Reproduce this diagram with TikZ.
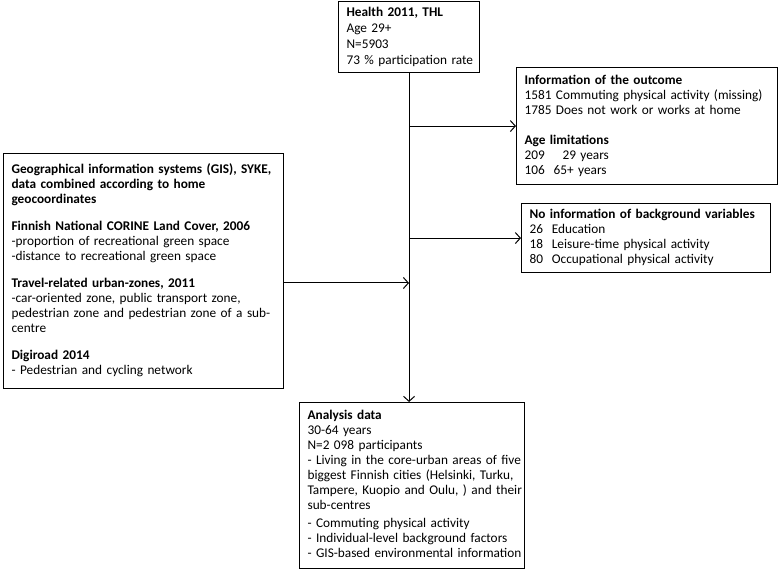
\documentclass[tikz,border=0pt]{standalone}
\usepackage{fontspec}
\setmainfont{Carlito}
\usetikzlibrary{positioning}
\usetikzlibrary{arrows.meta}
\tikzset{
  % framed text box of the flow chart
  box/.style={draw, line width=1.1pt, anchor=north west, align=left,
    inner xsep=8pt, inner ysep=2pt, font=\fontsize{13.3}{15}\selectfont},
  % connectors
  flow/.style={->, line width=1pt},
  >={Straight Barb[length=5pt,width=11pt]},
}

\begin{document}
\begin{tikzpicture}[x=1pt, y=-1pt]
  \useasboundingbox (0,0) rectangle (779,569);

  \node[box, text width=125pt, minimum height=71pt,
    font=\fontsize{13.3}{16}\selectfont] (health) at (338,1)
    {\begin{tabular}{@{}l@{}}
     \textbf{Health 2011, THL}\\ Age 29+\\ N=5903\\ 73 \% participation rate
     \end{tabular}};

  \node[box, text width=245pt, minimum height=117pt] (outcome) at (516,67)
    {\begin{tabular}{@{}l@{}}
     \textbf{Information of the outcome}\\
     1581 Commuting physical activity (missing)\\
     1785 Does not work or works at home\\[15pt]
     \textbf{Age limitations}\\
     209\quad\ 29 years\\
     106\ \ 65+ years
     \end{tabular}};

  \node[box, text width=233pt, minimum height=69pt] (backgr) at (521,203)
    {\begin{tabular}{@{}l@{}}
     \textbf{No information of background variables}\\
     26\ \ Education\\
     18\ \ Leisure-time physical activity\\
     80\ \ Occupational physical activity
     \end{tabular}};

  \node[box, text width=264pt, minimum height=235pt] (gis) at (3,153)
    {\begin{tabular}{@{}l@{}}
     \textbf{Geographical information systems (GIS), SYKE,}\\
     \textbf{data combined according to home}\\
     \textbf{geocoordinates}\\[12pt]
     \textbf{Finnish National CORINE Land Cover, 2006}\\
     -proportion of recreational green space\\
     -distance to recreational green space\\[12pt]
     \textbf{Travel-related urban-zones, 2011}\\
     -car-oriented zone, public transport zone,\\
     pedestrian zone and pedestrian zone of a sub-\\
     centre\\[12pt]
     \textbf{Digiroad 2014}\\
     - Pedestrian and cycling network
     \end{tabular}};

  \node[box, text width=209pt, minimum height=166pt] (analysis) at (299,402)
    {\begin{tabular}{@{}l@{}}
     \textbf{Analysis data}\\
     30-64 years\\
     N=2 098 participants\\
     - Living in the core-urban areas of five\\
     biggest Finnish cities (Helsinki, Turku,\\
     Tampere, Kuopio and Oulu, ) and their\\
     sub-centres\\[3pt]
     - Commuting physical activity\\
     - Individual-level background factors\\
     - GIS-based environmental information
     \end{tabular}};

  \coordinate (gisout) at (283,283);

  \draw[flow] (health.south) -- (health.south |- analysis.north);
  \draw[flow] (health.south |- outcome.west) -- (outcome.west);
  \draw[flow] (health.south |- backgr.west) -- (backgr.west);
  \draw[flow] (gisout) -- (gisout -| health.south);
\end{tikzpicture}
\end{document}
